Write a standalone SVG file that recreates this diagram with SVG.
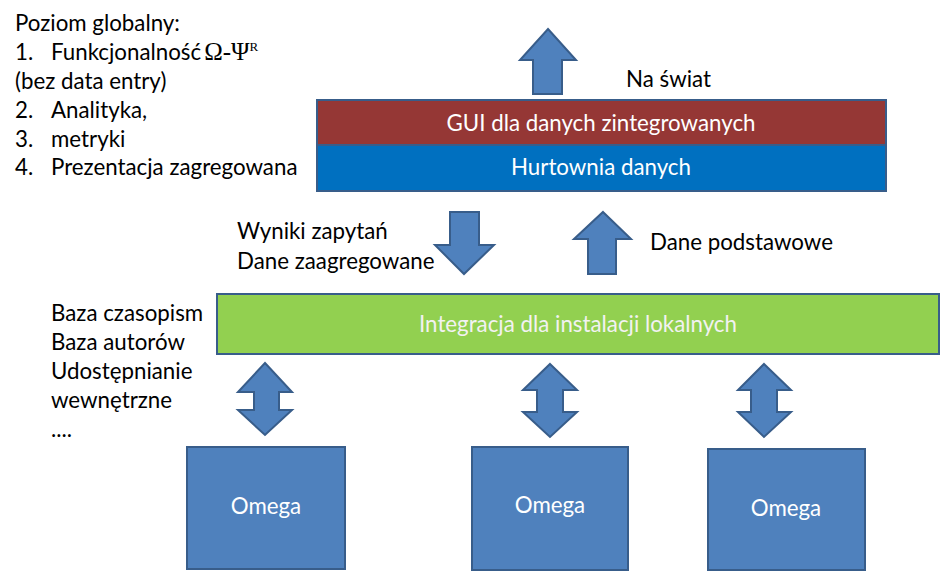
<svg xmlns="http://www.w3.org/2000/svg" width="941" height="572" viewBox="0 0 941 572">
<style>
.t{font-family:Lato,"Liberation Sans",sans-serif;font-size:22.3px;fill:#000}
.w{font-family:Lato,"Liberation Sans",sans-serif;font-size:22.3px;fill:#fff;text-anchor:middle}
.s{stroke:#385d8a;stroke-width:2}
.a{fill:#4f81bd;stroke:#385d8a;stroke-width:2;stroke-linejoin:miter}
.g{font-family:"Liberation Serif",serif}
</style>
<rect width="941" height="572" fill="#fff"/>
<g id="global-text">
<text class="t" x="15" y="31">Poziom globalny:</text>
<text class="t" x="15" y="60">1.</text>
<text class="t" x="51" y="60">Funkcjonalność<tspan class="g" dx="3" font-size="25">Ω-Ψ</tspan><tspan class="g" font-size="13" dy="-9">R</tspan></text>
<text class="t" x="15" y="89">(bez data entry)</text>
<text class="t" x="15" y="118">2.</text>
<text class="t" x="51" y="118">Analityka,</text>
<text class="t" x="15" y="147">3.</text>
<text class="t" x="51" y="147">metryki</text>
<text class="t" x="15" y="175">4.</text>
<text class="t" x="51" y="175">Prezentacja zagregowana</text>
</g>
<g id="gui">
<rect x="317" y="100" width="569" height="45" fill="#953735" class="s"/>
<text class="w" x="601" y="131">GUI dla danych zintegrowanych</text>
</g>
<g id="hurtownia">
<rect x="317" y="145" width="569" height="46" fill="#0070c0" class="s"/>
<text class="w" x="601" y="175">Hurtownia danych</text>
</g>
<g id="integracja">
<rect x="217" y="294" width="722" height="60" fill="#92d050" class="s"/>
<text class="w" x="578" y="332" style="fill:#f2f2f2">Integracja dla instalacji lokalnych</text>
</g>
<g id="omega1">
<rect x="187" y="447" width="158" height="122" fill="#4f81bd" class="s"/>
<text class="w" x="266" y="514">Omega</text>
</g>
<g id="omega2">
<rect x="472" y="447" width="156" height="123" fill="#4f81bd" class="s"/>
<text class="w" x="550" y="513">Omega</text>
</g>
<g id="omega3">
<rect x="708" y="449" width="157" height="121" fill="#4f81bd" class="s"/>
<text class="w" x="786" y="516">Omega</text>
</g>
<g id="labels">
<text class="t" x="626" y="87">Na świat</text>
<text class="t" x="237" y="239">Wyniki zapytań</text>
<text class="t" x="237" y="269">Dane zaagregowane</text>
<text class="t" x="650" y="250">Dane podstawowe</text>
<text class="t" x="51" y="321">Baza czasopism</text>
<text class="t" x="51" y="350">Baza autorów</text>
<text class="t" x="51" y="379">Udostępnianie</text>
<text class="t" x="51" y="408">wewnętrzne</text>
<text class="t" x="51" y="437">....</text>
</g>
<g id="connectors">
<path class="a" d="M548,29 L576,60 L562,60 L562,94 L533,94 L533,60 L520,60 Z"/>
<path class="a" d="M450,212 L479,212 L479,245 L494,245 L464,274 L435,245 L450,245 Z"/>
<path class="a" d="M603,212 L631,239 L616,239 L616,274 L588,274 L588,239 L574,239 Z"/>
<path class="a" d="M265,363 L292,392 L279,392 L279,410 L292,410 L265,435 L238,410 L254,410 L254,392 L238,392 Z"/>
<path class="a" d="M550,364 L577,390 L563,390 L563,412 L577,412 L550,437 L523,412 L537,412 L537,390 L523,390 Z"/>
<path class="a" d="M764,364 L791,390 L777,390 L777,412 L791,412 L764,437 L738,412 L751,412 L751,390 L738,390 Z"/>
</g>
</svg>
